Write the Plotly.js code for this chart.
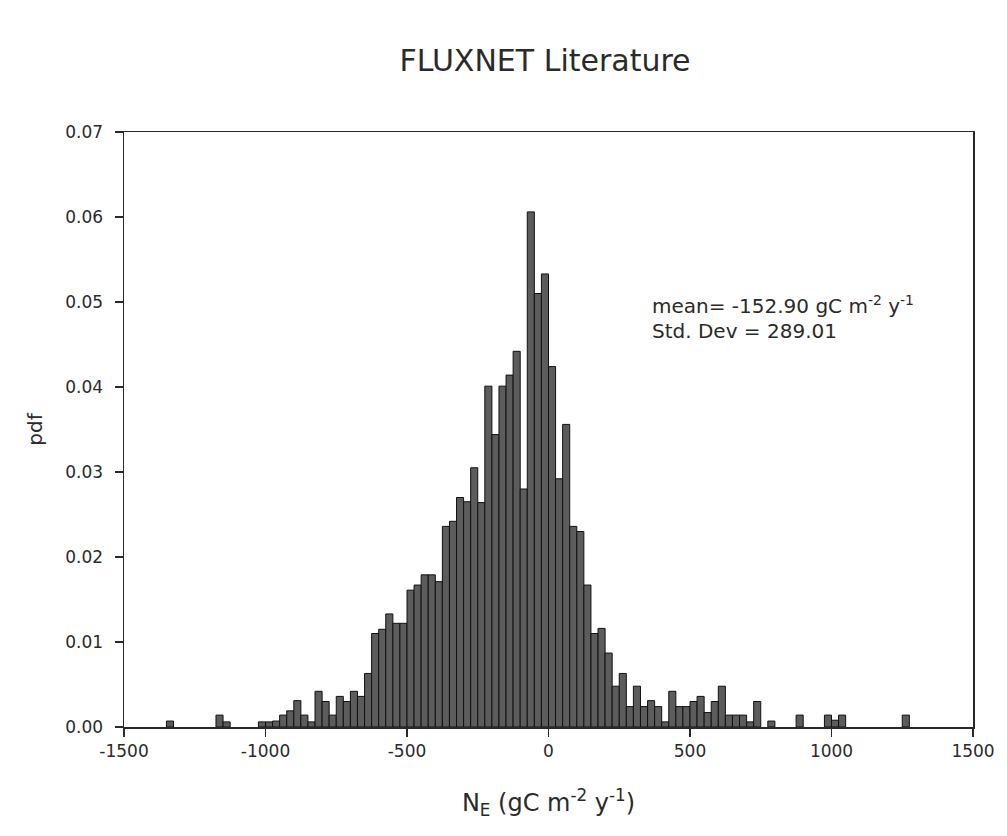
<!DOCTYPE html>
<html>
<head>
<meta charset="utf-8">
<script src="https://cdn.plot.ly/plotly-3.0.1.min.js"></script>
<style>html,body{margin:0;padding:0;background:#fff;}#chart{width:1007px;height:836px;}</style>
</head>
<body>
<div id="chart"></div>
<script>
// Histogram bins (bin width 25 gC m-2 y-1), centres and pdf values
const binCenters = [
  -1337.5, -1162.5, -1137.5, -1012.5, -987.5, -962.5, -937.5, -912.5, -887.5, -862.5,
  -837.5, -812.5, -787.5, -762.5, -737.5, -712.5, -687.5, -662.5, -637.5, -612.5,
  -587.5, -562.5, -537.5, -512.5, -487.5, -462.5, -437.5, -412.5, -387.5, -362.5,
  -337.5, -312.5, -287.5, -262.5, -237.5, -212.5, -187.5, -162.5, -137.5, -112.5,
  -87.5, -62.5, -37.5, -12.5, 12.5, 37.5, 62.5, 87.5, 112.5, 137.5,
  162.5, 187.5, 212.5, 237.5, 262.5, 287.5, 312.5, 337.5, 362.5, 387.5,
  412.5, 437.5, 462.5, 487.5, 512.5, 537.5, 562.5, 587.5, 612.5, 637.5,
  662.5, 687.5, 712.5, 737.5, 787.5, 887.5, 987.5, 1012.5, 1037.5, 1262.5
];
const pdfValues = [
  0.0007, 0.0014, 0.0006, 0.0006, 0.0006, 0.0007, 0.0014, 0.0019, 0.0031, 0.0014,
  0.0006, 0.0042, 0.0030, 0.0014, 0.0036, 0.0030, 0.0042, 0.0036, 0.0063, 0.0110,
  0.0115, 0.0133, 0.0122, 0.0122, 0.0161, 0.0167, 0.0179, 0.0179, 0.0171, 0.0236,
  0.0242, 0.0270, 0.0265, 0.0305, 0.0264, 0.0401, 0.0344, 0.0401, 0.0414, 0.0442,
  0.0280, 0.0606, 0.0510, 0.0533, 0.0424, 0.0292, 0.0356, 0.0236, 0.0230, 0.0167,
  0.0110, 0.0116, 0.0087, 0.0048, 0.0063, 0.0024, 0.0048, 0.0024, 0.0031, 0.0024,
  0.0006, 0.0042, 0.0024, 0.0024, 0.0030, 0.0036, 0.0017, 0.0030, 0.0048, 0.0014,
  0.0014, 0.0014, 0.0006, 0.0030, 0.0007, 0.0014, 0.0014, 0.0008, 0.0014, 0.0014
];
const xTickVals = [-1500, -1000, -500, 0, 500, 1000, 1500];
const yTickVals = [0, 0.01, 0.02, 0.03, 0.04, 0.05, 0.06, 0.07];
const statsLines = ['mean= -152.90 gC m<sup>-2</sup> y<sup>-1</sup>', 'Std. Dev = 289.01'];

const FONT = 'DejaVu Sans, Liberation Sans, Arial, sans-serif';
const INK = '#2a2a2a';

const trace = {
  type: 'bar',
  x: binCenters,
  y: pdfValues,
  marker: { color: '#5c5c5c', line: { color: '#111111', width: 1 } },
  hoverinfo: 'x+y'
};

const layout = {
  width: 1007,
  height: 836,
  margin: { l: 124, r: 34, t: 132, b: 109 },
  paper_bgcolor: '#ffffff',
  plot_bgcolor: '#ffffff',
  bargap: 0,
  showlegend: false,
  font: { family: FONT, color: INK, size: 17 },
  title: {
    text: 'FLUXNET Literature',
    font: { family: FONT, size: 30, color: INK },
    x: 545 / 1007, xanchor: 'center', xref: 'container',
    y: 1 - 60 / 836, yanchor: 'middle', yref: 'container'
  },
  xaxis: {
    range: [-1500, 1500],
    tickvals: xTickVals,
    ticktext: xTickVals.map(String),
    ticks: 'outside', ticklen: 8, tickwidth: 1.5, tickcolor: INK,
    showline: true, linecolor: INK, linewidth: 1.5, mirror: true,
    showgrid: false, zeroline: false,
    tickfont: { family: FONT, size: 17, color: INK },
    title: {
      text: 'N<sub>E</sub> (gC m<sup>-2</sup> y<sup>-1</sup>)',
      font: { family: FONT, size: 24, color: INK },
      standoff: 34
    }
  },
  yaxis: {
    range: [0, 0.07],
    tickvals: yTickVals,
    ticktext: yTickVals.map(v => v.toFixed(2)),
    ticks: 'outside', ticklen: 8, tickwidth: 1.5, tickcolor: INK,
    ticklabelstandoff: 8,
    showline: true, linecolor: INK, linewidth: 1.5, mirror: true,
    showgrid: false, zeroline: false,
    tickfont: { family: FONT, size: 17, color: INK },
    title: {
      text: 'pdf',
      font: { family: FONT, size: 20, color: INK },
      standoff: 17
    }
  },
  annotations: [
    { x: 357, y: 0.0496, xref: 'x', yref: 'y', text: statsLines[0], showarrow: false,
      xanchor: 'left', yanchor: 'middle', font: { family: FONT, size: 20, color: INK } },
    { x: 357, y: 0.0466, xref: 'x', yref: 'y', text: statsLines[1], showarrow: false,
      xanchor: 'left', yanchor: 'middle', font: { family: FONT, size: 20, color: INK } }
  ]
};

Plotly.newPlot('chart', [trace], layout, { displayModeBar: false, staticPlot: true });
</script>
</body>
</html>
